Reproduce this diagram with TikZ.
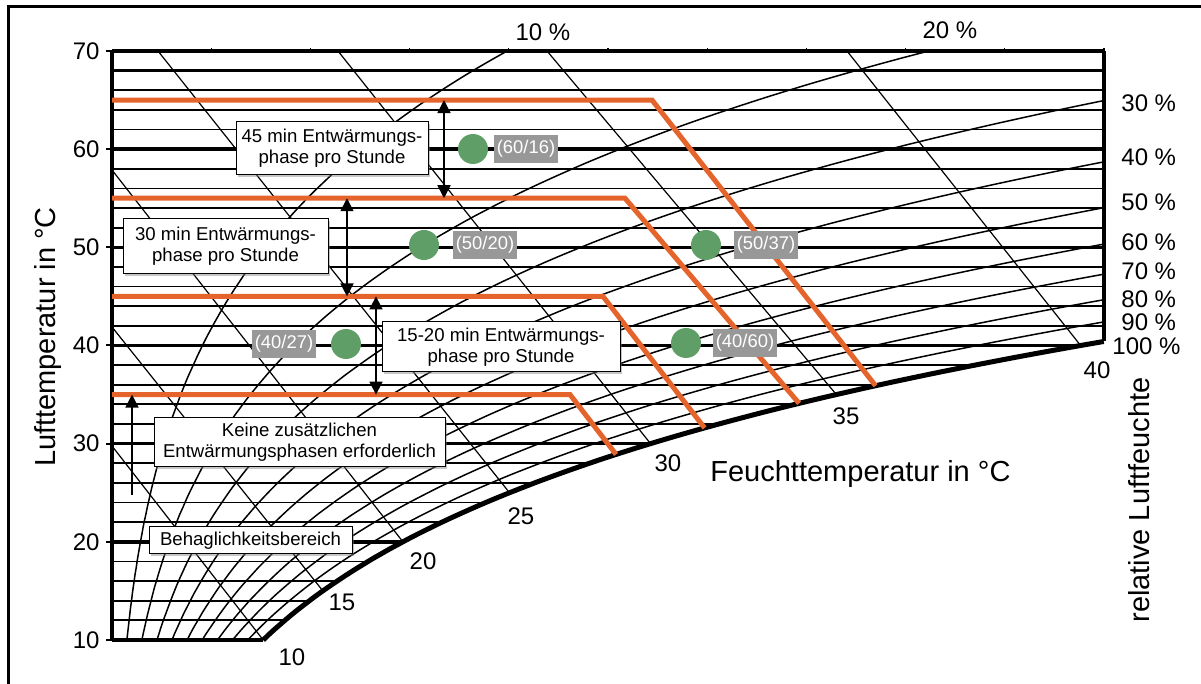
\documentclass[tikz,border=0pt]{standalone}
\usepackage{fontspec}
\setmainfont{Liberation Sans}
\usetikzlibrary{arrows.meta, shadows}

\definecolor{limitorange}{RGB}{228,100,44}
\definecolor{pointgreen}{RGB}{96,158,104}
\definecolor{taggray}{RGB}{152,152,152}

\tikzset{
  gridline/.style={line width=0.9pt},
  decadeline/.style={line width=1.8pt},
  rhline/.style={line width=0.75pt},
  wbline/.style={line width=0.6pt},
  limitline/.style={limitorange, line width=2.5pt},
  notebox/.style={draw, fill=white, line width=0.5pt, align=center, inner sep=0pt,
    font=\fontsize{9.3}{10.4}\selectfont,
    drop shadow={shadow xshift=1.2pt, shadow yshift=-1.2pt, opacity=0.45}},
  greendot/.style={circle, fill=pointgreen, minimum size=15pt, inner sep=0pt},
  valuetag/.style={fill=taggray, text=white, minimum width=32pt, minimum height=14pt,
    inner sep=0pt, font=\fontsize{9.2}{10}\selectfont},
  phasearrow/.style={line width=0.85pt, {Triangle[width=6.5pt,length=6.5pt]}-{Triangle[width=6.5pt,length=6.5pt]}},
  comfortarrow/.style={line width=0.85pt, -{Triangle[width=6.5pt,length=6.5pt]}},
  ticklabel/.style={font=\fontsize{12}{14}\selectfont, inner sep=0pt},
  axislabel/.style={font=\fontsize{14.5}{17}\selectfont, inner sep=0pt},
}

\begin{document}
\begin{tikzpicture}[x=0.5pt, y=-0.5pt,
  declare function={
    psat(\x)=0.61094*exp(17.625*\x/(\x+243.04));
    wrat(\x,\y)=\y*psat(\x)/(101.325-\y*psat(\x));
    hx(\x,\y)=112+19.84*(622*wrat(\x,\y));
    tpix(\x)=640-9.817*(\x-10);
  }]
  \useasboundingbox (0,0) rectangle (1201,684);

  % outer frame
  \draw[line width=1.5pt] (8,700) -- (8,7) -- (1210,7);

  % air temperature lines, every 2 degrees
  \foreach \tc in {10,12,...,70}{
    \pgfmathsetmacro\xe{min(hx(\tc,1),1104)}
    \draw[gridline] (112,{tpix(\tc)}) -- (\xe,{tpix(\tc)});
  }
  \foreach \tc in {10,20,30,40,50,60,68,70}{
    \pgfmathsetmacro\xe{min(hx(\tc,1),1104)}
    \draw[decadeline] (112,{tpix(\tc)}) -- (\xe,{tpix(\tc)});
  }

  % relative humidity curves
  \begin{scope}
    \clip (112,51) rectangle (1104,640);
    \foreach \f in {0.1,0.2,0.3,0.4,0.5,0.6,0.7,0.8,0.9}
      \draw[rhline] plot[domain=10:70, samples=90, smooth] ({hx(\x,\f)},{tpix(\x)});
  \end{scope}

  % wet-bulb lines with their labels
  \foreach \tw/\ex/\ey/\lx/\ly in {10/112/446/292/657, 15/112/327/342/602,
      20/112/170/423/561, 25/158/51/521/516, 30/338/51/668/463,
      35/547/51/846/416, 40/847/51/1097/370}{
    \draw[wbline] (\ex,\ey) -- ({hx(\tw,1)},{tpix(\tw)});
    \node[ticklabel] (wb\tw) at (\lx,\ly) {\tw};
  }

  % saturation curve (100 %)
  \draw[line width=2.5pt] plot[domain=10:40.41, samples=60, smooth] ({hx(\x,1)},{tpix(\x)});

  % axes and ticks
  \draw[line width=2pt] (112,51) -- (112,641);
  \draw[line width=1.6pt] (1104,51) -- (1104,{tpix(40.41)});
  \foreach \g in {5,10,...,50}
    \draw[line width=0.6pt] ({112+19.84*\g},51) -- ++(0,-3);
  \foreach \tc in {10,20,...,70}{
    \draw[line width=1pt] (106,{tpix(\tc)}) -- (112,{tpix(\tc)});
    \node[ticklabel, anchor=east] (y\tc) at (100,{tpix(\tc)}) {\tc};
  }

  % humidity labels
  \node[ticklabel] (rh10) at (543,32) {10 \%};
  \node[ticklabel] (rh20) at (950,30) {20 \%};
  \foreach \p/\yy in {30/103,40/157,50/202,60/242,70/271,80/299,90/322}
    \node[ticklabel, anchor=west] (rh\p) at (1121,\yy) {\p\ \%};
  \node[ticklabel, anchor=west] (rh100) at (1112,346) {100 \%};

  % axis titles
  \node[axislabel, rotate=90] (ylab) at (48,337) {Lufttemperatur in °C};
  \node[axislabel, rotate=90] (rlab) at (1139,500) {relative Luftfeuchte};
  \node[axislabel, anchor=base west] (wlab) at (710,482) {Feuchttemperatur in °C};

  % limit lines
  \draw[limitline] (112,{tpix(65)}) -- (652,{tpix(65)}) -- ({hx(35.9,1)},{tpix(35.9)});
  \draw[limitline] (112,{tpix(55)}) -- (625,{tpix(55)}) -- ({hx(34.1,1)},{tpix(34.1)});
  \draw[limitline] (112,{tpix(45)}) -- (603,{tpix(45)}) -- ({hx(31.6,1)},{tpix(31.6)});
  \draw[limitline] (112,{tpix(35)}) -- (570,{tpix(35)}) -- ({hx(28.9,1)},{tpix(28.9)});

  % arrows between the limit lines
  \coordinate (a65) at (444,{tpix(65)});
  \coordinate (a55) at (444,{tpix(55)});
  \coordinate (b55) at (347,{tpix(55)});
  \coordinate (b45) at (347,{tpix(45)});
  \coordinate (c45) at (376,{tpix(45)});
  \coordinate (c35) at (376,{tpix(35)});
  \coordinate (d35) at (132,{tpix(35)});
  \coordinate (d0) at (132,495);
  \draw[phasearrow] (a65) -- (a55);
  \draw[phasearrow] (b55) -- (b45);
  \draw[phasearrow] (c45) -- (c35);
  \draw[comfortarrow] (d0) -- (d35);

  % text boxes
  \node[notebox, minimum width=96pt, minimum height=26.5pt] (n45) at (332,148.5)
    {45 min Entwärmungs-\\phase pro Stunde};
  \node[notebox, minimum width=102.5pt, minimum height=27.5pt] (n30) at (225.5,246.5)
    {30 min Entwärmungs-\\phase pro Stunde};
  \node[notebox, minimum width=119pt, minimum height=25pt] (n15) at (501,347)
    {15-20 min Entwärmungs-\\phase pro Stunde};
  \node[notebox, minimum width=145.5pt, minimum height=24.5pt] (nkeine) at (299.5,442.5)
    {Keine zusätzlichen\\Entwärmungsphasen erforderlich};
  \node[notebox, minimum width=101.5pt, minimum height=13.5pt] (nbeh) at (250.5,540.5)
    {Behaglichkeitsbereich};

  % measured points
  \foreach \n/\cx/\cy/\lx/\ta/\tb in {1/473/149/526/60/16, 2/424/245/485/50/20,
      3/706/245/766/50/37, 4/346/344/284/40/27, 5/686/343/745/40/60}{
    \node[greendot] (p\n) at (\cx,\cy) {};
    \node[valuetag] (v\n) at (\lx,\cy) {(\ta/\tb)};
  }
\end{tikzpicture}
\end{document}
